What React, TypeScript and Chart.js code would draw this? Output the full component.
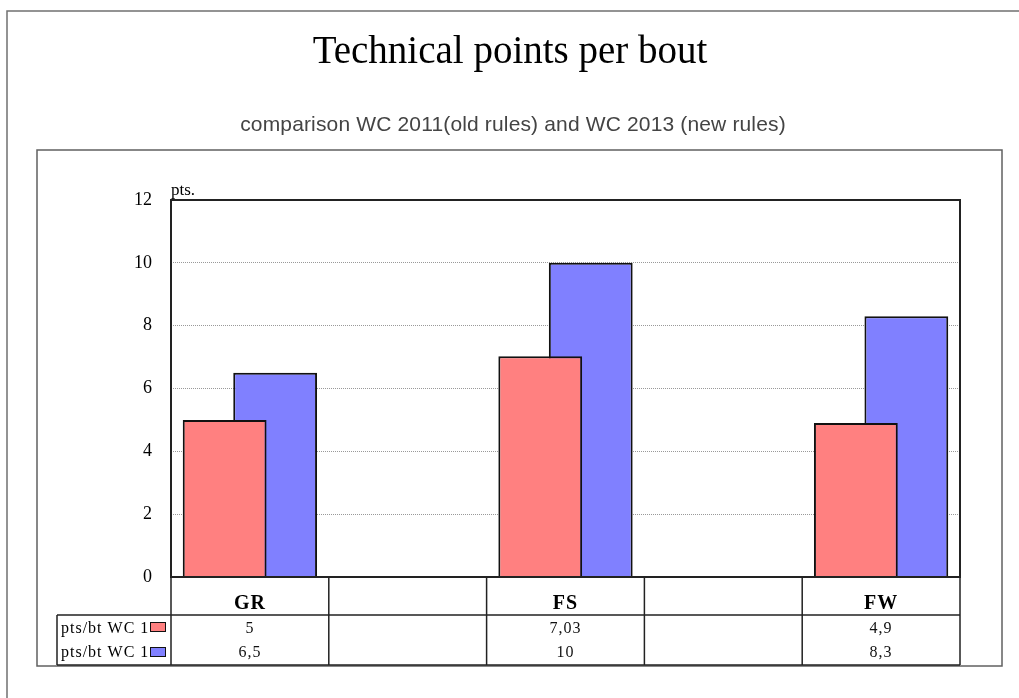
import React, { useEffect, useRef } from "react";
import { Chart, registerables } from "chart.js";

Chart.register(...registerables);

// ---- data ----
const categories = ["GR", "", "FS", "", "FW"];
const wc2011 = [5, null, 7.03, null, 4.9];
const wc2013 = [6.5, null, 10, null, 8.3];
const seriesNames = ["pts/bt WC 11", "pts/bt WC 13"];
const seriesColors = ["#FF8080", "#8080FF"];
const yMin = 0;
const yMax = 12;
const yStep = 2;
const titleText = "Technical points per bout";
const subtitleText = "comparison WC 2011(old rules) and WC 2013 (new rules)";
const yUnit = "pts.";

const fmt = (v: number | null) => (v === null ? "" : String(v).replace(".", ","));

const W = 1019;
const H = 698;

const decorPlugin = {
  id: "decor",
  beforeDraw(chart: any) {
    const ctx = chart.ctx as CanvasRenderingContext2D;
    ctx.save();
    ctx.fillStyle = "#ffffff";
    ctx.fillRect(0, 0, W, H);
    // outer frame
    ctx.strokeStyle = "#707070";
    ctx.lineWidth = 1.5;
    ctx.strokeRect(7, 11, 1200, 900);
    // inner frame
    ctx.strokeStyle = "#606060";
    ctx.strokeRect(37, 150, 965, 516);
    // title
    ctx.fillStyle = "#000";
    ctx.textAlign = "center";
    ctx.textBaseline = "alphabetic";
    ctx.font = "39px 'Liberation Serif'";
    ctx.fillText(titleText, 510, 63);
    // subtitle
    ctx.fillStyle = "#444";
    ctx.font = "21px 'Liberation Sans'";
    (ctx as any).letterSpacing = "0.15px";
    ctx.fillText(subtitleText, 513, 131);
    ctx.restore();
  },
  afterDatasetsDraw(chart: any) {
    const ctx = chart.ctx as CanvasRenderingContext2D;
    const ca = chart.chartArea;
    const xs = chart.scales.x;
    ctx.save();
    // plot frame
    ctx.strokeStyle = "#222";
    ctx.lineWidth = 2;
    ctx.strokeRect(ca.left, ca.top, ca.right - ca.left, ca.bottom - ca.top);

    // unit label
    ctx.fillStyle = "#000";
    ctx.font = "17px 'Liberation Serif'";
    ctx.textAlign = "left";
    ctx.textBaseline = "alphabetic";
    ctx.fillText(yUnit, ca.left, ca.top - 5);

    // data table
    const n = categories.length;
    const half = (xs.getPixelForTick(1) - xs.getPixelForTick(0)) / 2;
    const bounds: number[] = [];
    for (let i = 0; i < n; i++) bounds.push(xs.getPixelForTick(i) - half);
    bounds.push(xs.getPixelForTick(n - 1) + half);
    const top = ca.bottom;
    const catH = 38;
    const rowH = 25;
    const y1 = top + catH;
    const y3 = y1 + rowH * 2;
    const labelLeft = 57;
    const right = bounds[bounds.length - 1];

    ctx.strokeStyle = "#222";
    ctx.lineWidth = 1.5;
    ctx.beginPath();
    ctx.moveTo(labelLeft, y1);
    ctx.lineTo(right, y1);
    ctx.moveTo(labelLeft, y3);
    ctx.lineTo(right, y3);
    ctx.moveTo(labelLeft, y1);
    ctx.lineTo(labelLeft, y3);
    for (const b of bounds) {
      ctx.moveTo(b, top);
      ctx.lineTo(b, y3);
    }
    ctx.stroke();

    // category labels
    ctx.fillStyle = "#000";
    ctx.textAlign = "center";
    ctx.font = "bold 20px 'Liberation Serif'";
    (ctx as any).letterSpacing = "1px";
    categories.forEach((c, i) => {
      if (c) ctx.fillText(c, xs.getPixelForTick(i), top + 32);
    });

    // rows
    const rows = [wc2011, wc2013];
    ctx.font = "16px 'Liberation Serif'";
    rows.forEach((row, r) => {
      const rt = y1 + r * rowH;
      const base = rt + 18 - r;
      const boxL = ca.left - 21;
      // label (clipped under legend box)
      ctx.save();
      ctx.beginPath();
      ctx.rect(labelLeft, rt, boxL - labelLeft, rowH);
      ctx.clip();
      ctx.textAlign = "left";
      ctx.fillStyle = "#000";
      ctx.fillText(seriesNames[r], labelLeft + 4, base);
      ctx.restore();
      // legend swatch
      ctx.fillStyle = seriesColors[r];
      ctx.fillRect(boxL, rt + 7, 15, 9);
      ctx.strokeStyle = "#111";
      ctx.lineWidth = 1;
      ctx.strokeRect(boxL + 0.5, rt + 7.5, 15, 9);
      // values
      ctx.textAlign = "center";
      ctx.fillStyle = "#111";
      row.forEach((v, i) => {
        if (v !== null) ctx.fillText(fmt(v), xs.getPixelForTick(i), base);
      });
    });
    ctx.restore();
  },
};

export default function App() {
  const ref = useRef<HTMLCanvasElement | null>(null);
  useEffect(() => {
    if (!ref.current) return;
    const chart = new Chart(ref.current, {
      type: "bar",
      data: {
        labels: categories,
        datasets: [
          {
            label: seriesNames[0],
            data: wc2011,
            backgroundColor: seriesColors[0],
            borderColor: "#111",
            borderWidth: 2,
            categoryPercentage: 0.64,
            barPercentage: 1.66,
          },
          {
            label: seriesNames[1],
            data: wc2013,
            backgroundColor: seriesColors[1],
            borderColor: "#111",
            borderWidth: 2,
            categoryPercentage: 0.64,
            barPercentage: 1.66,
          },
        ],
      },
      options: {
        responsive: false,
        animation: false,
        layout: { padding: { top: 200, right: 59, bottom: 121, left: 0 } },
        plugins: {
          legend: { display: false },
          tooltip: { enabled: false },
          title: { display: false },
        },
        scales: {
          x: { display: false, offset: true },
          y: {
            min: yMin,
            max: yMax,
            ticks: {
              stepSize: yStep,
              padding: 19,
              color: "#000",
              font: { family: "'Liberation Serif'", size: 18 },
            },
            grid: { color: "#999999", lineWidth: 1, drawTicks: false },
            border: { display: false, dash: [1, 1] },
            afterFit: (s: any) => {
              s.width = 171;
            },
          },
        },
      },
      plugins: [decorPlugin],
    });
    return () => chart.destroy();
  }, []);
  return (
    <div style={{ position: "fixed", left: 0, top: 0, width: W, height: H }}>
      <canvas ref={ref} width={W} height={H} style={{ display: "block" }} />
    </div>
  );
}
